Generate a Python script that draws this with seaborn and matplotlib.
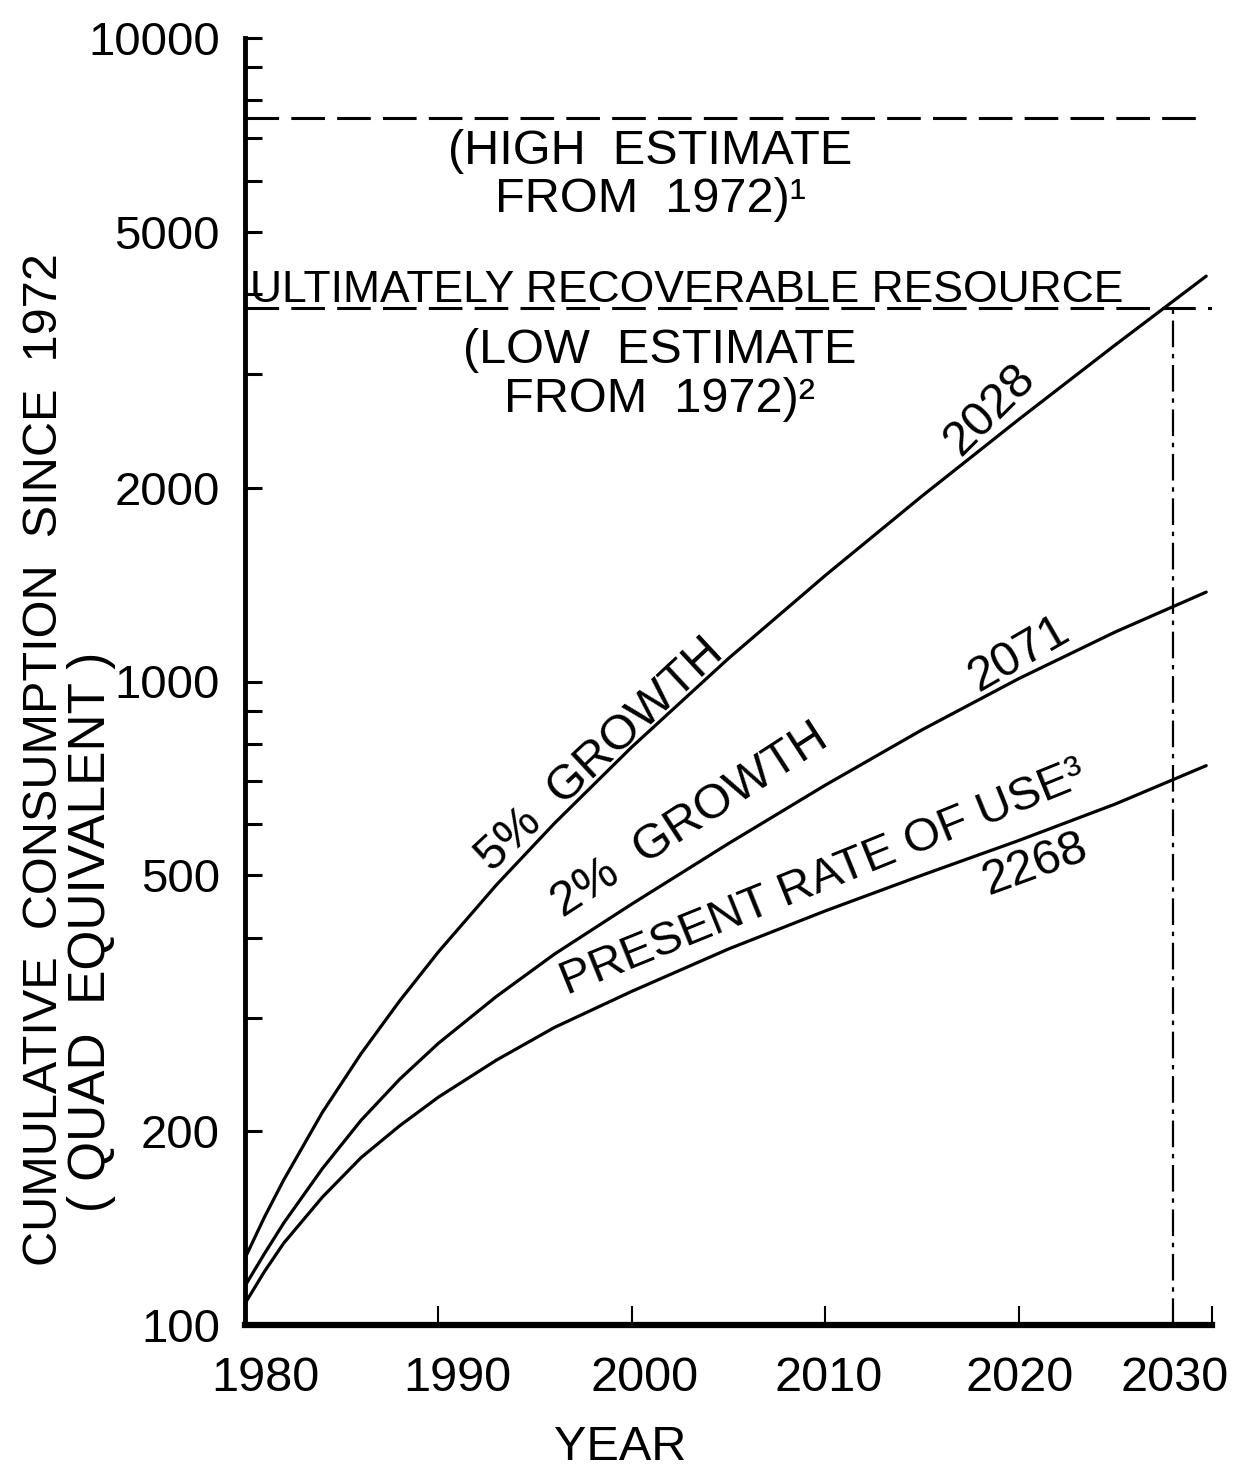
import pandas as pd
import matplotlib.pyplot as plt
import matplotlib.transforms as mtransforms
from matplotlib.ticker import NullFormatter
import seaborn as sns

# values (cumulative quads since 1972)
years = [1980, 1981, 1982, 1984, 1986, 1988, 1990, 1993, 1996, 2000, 2005, 2010, 2015, 2020, 2025, 2029.7]
growth5 = [127, 147, 168, 214, 264, 319, 380, 483, 602, 791, 1086, 1461, 1941, 2553, 3335, 4265]
growth2 = [115, 129, 144, 175, 208, 241, 274, 324, 377, 451, 560, 690, 841, 1010, 1194, 1377]
present = [108, 121, 134, 158, 182, 204, 226, 258, 290, 330, 384, 440, 500, 566, 645, 740]

high_estimate = 7500
low_estimate = 3800
depletion_year = 2028

x_ticks = [1980, 1990, 2000, 2010, 2020, 2030]
y_major = [100, 200, 500, 1000, 2000, 5000, 10000]
y_minor = [300, 400, 600, 700, 800, 900, 3000, 4000, 6000, 7000, 8000, 9000]

df = pd.DataFrame({
    'year': years * 3,
    'value': growth5 + growth2 + present,
    'series': ['5%'] * len(years) + ['2%'] * len(years) + ['present'] * len(years),
})

sns.set_theme(style='ticks')
plt.rcParams['font.family'] = ['Liberation Sans', 'DejaVu Sans']
plt.rcParams['text.color'] = 'black'

fig = plt.figure(figsize=(12.45, 14.70), dpi=100)
ax = fig.add_axes([245 / 1245, 145 / 1470, 967 / 1245, 1287 / 1470])

sns.lineplot(data=df, x='year', y='value', hue='series',
             palette={'5%': 'black', '2%': 'black', 'present': 'black'},
             linewidth=2.3, legend=False, ax=ax)

ax.hlines(high_estimate, 1980, 2029.7, colors='black', linestyles=(0, (11, 4)), linewidth=2.2)
ax.hlines(low_estimate, 1980, 2030, colors='black', linestyles=(0, (11, 4)), linewidth=2.2)
ax.vlines(depletion_year, 100, low_estimate, colors='black', linestyles=(0, (12, 3, 2, 3)), linewidth=1.6)

ax.set_yscale('log')
ax.set_xlim(1980, 2030)
ax.set_ylim(100, 10000)
ax.set_yticks(y_major)
ax.set_yticklabels([str(v) for v in y_major])
ax.set_yticks(y_minor, minor=True)
ax.yaxis.set_minor_formatter(NullFormatter())
ax.set_xticks(x_ticks)
ax.set_xticklabels([str(v) for v in x_ticks])
ax.set_xlabel('')
ax.set_ylabel('')

ax.tick_params(axis='y', which='both', direction='in', length=12, width=2.2,
               labelsize=34, pad=18, colors='black')
ax.tick_params(axis='x', direction='in', length=14, width=1.5,
               labelsize=35, pad=22, colors='black')
sns.despine(ax=ax)
ax.spines['left'].set_linewidth(3.5)
ax.spines['bottom'].set_linewidth(4.5)
ax.spines['left'].set_color('black')
ax.spines['bottom'].set_color('black')

# hand-lettered labels sit a little off their ticks
shifts = [20, 19, 13, 3, 1, -37]
for lab, dx in zip(ax.get_xticklabels(), shifts):
    lab.set_transform(lab.get_transform() + mtransforms.ScaledTranslation(dx / 100, 0, fig.dpi_scale_trans))

fs = 35
tkw = dict(transform=ax.transAxes, ha='center', va='center', fontsize=fs)
ax.text(0.419, 0.893, '(HIGH  ESTIMATE\nFROM  1972)¹', linespacing=1.1, **tkw)
ax.text(0.457, 0.804, 'ULTIMATELY RECOVERABLE RESOURCE', transform=ax.transAxes,
        ha='center', va='center', fontsize=32)
ax.text(0.429, 0.738, '(LOW  ESTIMATE\nFROM  1972)²', linespacing=1.1, **tkw)

rkw = dict(transform=ax.transAxes, ha='center', va='center', rotation_mode='anchor')
ax.text(0.367, 0.443, '5%  GROWTH', rotation=43, fontsize=fs, **rkw)
ax.text(0.770, 0.711, '2028', rotation=45, fontsize=fs, **rkw)
ax.text(0.460, 0.392, '2%  GROWTH', rotation=33, fontsize=fs, **rkw)
ax.text(0.801, 0.521, '2071', rotation=30, fontsize=fs, **rkw)
ax.text(0.598, 0.347, 'PRESENT RATE OF USE³', rotation=22, fontsize=34, **rkw)
ax.text(0.817, 0.358, '2268', rotation=20, fontsize=fs, **rkw)

fig.text(45 / 1245, 1 - 760 / 1470, 'CUMULATIVE  CONSUMPTION  SINCE  1972', rotation=90,
         ha='center', va='center', fontsize=35)
fig.text(92 / 1245, 1 - 932 / 1470, '( QUAD  EQUIVALENT )', rotation=90,
         ha='center', va='center', fontsize=37)
fig.text(620 / 1245, 1 - 1448 / 1470, 'YEAR', ha='center', va='center', fontsize=35)

plt.savefig('out.png', dpi=100)
